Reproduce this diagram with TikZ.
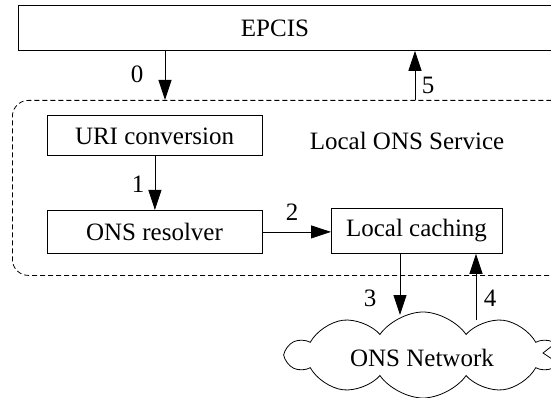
\documentclass[tikz,border=0pt]{standalone}
\usepackage{fontspec}
\setmainfont{Liberation Serif}
\usetikzlibrary{arrows.meta,shapes.symbols}
\begin{document}
\begin{tikzpicture}[x=1pt,y=-1pt,
  every node/.style={font=\fontsize{25}{29}\selectfont},
  box/.style={draw, line width=0.8pt, inner sep=0pt, anchor=north west},
  lbl/.style={inner sep=0pt},
  arr/.style={line width=0.8pt, -{Triangle[length=20pt,width=13pt]}},
]
\useasboundingbox (0,0) rectangle (551,398);
\clip (0,0) rectangle (551,398);
% EPCIS
\node[box, minimum width=560pt, minimum height=45pt] (epcis) at (18,5) {};
\node[lbl] (epcist) at (275,28) {EPCIS};
% container
\node[box, dashed, dash pattern=on 5pt off 3pt, rounded corners=16pt, minimum width=555pt, minimum height=175pt] (svc) at (12,100) {};
\node[lbl] (svct) at (407,141) {Local ONS Service};
% boxes
\node[box, minimum width=215pt, minimum height=40pt] (uri) at (47,115) {};
\node[lbl] (urit) at (154.5,136) {URI conversion};
\node[box, minimum width=215pt, minimum height=43pt] (res) at (47,210) {};
\node[lbl] (rest) at (154.5,232) {ONS resolver};
\node[box, minimum width=171pt, minimum height=45pt] (cache) at (331,208) {};
\node[lbl] (cachet) at (416.5,231) {Local caching};
% cloud
\node[cloud, draw, line width=0.8pt, cloud puffs=10, cloud puff arc=110, aspect=3.2, minimum width=272pt, minimum height=86pt, inner sep=0pt] (net) at (423,355) {};
\node[lbl] (nett) at (422,358) {ONS Network};
% arrows
\draw[arr] (165,0 |- epcis.south) -- (165,0 |- svc.north);
\draw[arr] (415,0 |- svc.north) -- (415,0 |- epcis.south);
\draw[arr] (uri.south) -- (uri.south |- res.north);
\draw[arr] (res.east) -- (res.east -| cache.west);
\draw[arr] (400,0 |- cache.south) -- (400,315);
\draw[arr] (476,320) -- (476,0 |- cache.south);
% partial arrowhead at right edge
\draw[line width=0.8pt] (552,346) -- (543,353) -- (552,359);
% labels
\node[lbl] (l0) at (137,74) {0};
\node[lbl] (l5) at (428,85) {5};
\node[lbl] (l1) at (138,184) {1};
\node[lbl] (l2) at (292,212) {2};
\node[lbl] (l3) at (370,298) {3};
\node[lbl] (l4) at (490,298) {4};
\end{tikzpicture}
\end{document}
